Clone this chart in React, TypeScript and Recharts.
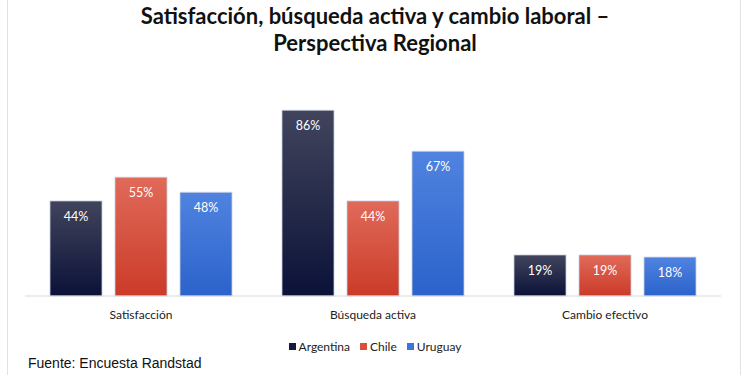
import React from 'react';
import { BarChart, Bar, XAxis, YAxis, LabelList } from 'recharts';

const categorias = ['Satisfacción', 'Búsqueda activa', 'Cambio efectivo'];
const argentina = [44, 86, 19];
const chile = [55, 44, 19];
const uruguay = [48, 67, 18];

const datos = categorias.map((name, i) => ({
  name,
  Argentina: argentina[i],
  Chile: chile[i],
  Uruguay: uruguay[i],
}));

const SERIES = [
  { key: 'Argentina', grad: 'gArg', top: '#41445c', bottom: '#0b1238', legend: '#14193f' },
  { key: 'Chile', grad: 'gChi', top: '#e06a5a', bottom: '#cb3b28', legend: '#d9503d' },
  { key: 'Uruguay', grad: 'gUru', top: '#5083e0', bottom: '#2b63cb', legend: '#3b74db' },
];

const FONT = 'Lato, "Open Sans", sans-serif';

export default function App(): React.ReactElement {
  return (
    <div
      style={{
        position: 'absolute',
        left: 0,
        top: 0,
        width: 750,
        height: 375,
        background: '#fff',
        fontFamily: FONT,
        overflow: 'hidden',
      }}
    >
      <div
        style={{
          position: 'absolute',
          left: 7,
          top: 0,
          width: 734,
          height: 375,
          borderLeft: '1px solid #e2e2e2',
          borderRight: '1px solid #e2e2e2',
          boxSizing: 'border-box',
        }}
      />
      <div
        style={{
          position: 'absolute',
          left: 0,
          top: 2,
          width: 750,
          textAlign: 'center',
          fontWeight: 700,
          fontSize: 22,
          lineHeight: '27px',
          color: '#111',
        }}
      >
        Satisfacción, búsqueda activa y cambio laboral –<br />
        Perspectiva Regional
      </div>
      <div style={{ position: 'absolute', left: 0, top: 0 }}>
        <BarChart
          width={750}
          height={330}
          data={datos}
          margin={{ top: 80, right: 29, left: 25, bottom: 4 }}
          barCategoryGap={25}
          barGap={13}
        >
          <defs>
            {SERIES.map((s) => (
              <linearGradient key={s.grad} id={s.grad} x1="0" y1="0" x2="0" y2="1">
                <stop offset="0%" stopColor={s.top} />
                <stop offset="100%" stopColor={s.bottom} />
              </linearGradient>
            ))}
          </defs>
          <XAxis
            dataKey="name"
            axisLine={{ stroke: '#d9d9d9' }}
            tickLine={false}
            tick={{ fontSize: 12, fill: '#222', fontFamily: FONT }}
            tickMargin={8}
          />
          <YAxis hide domain={[0, 100]} />
          {SERIES.map((s) => (
            <Bar
              key={s.key}
              dataKey={s.key}
              fill={`url(#${s.grad})`}
              stroke="#c9cfe0"
              strokeWidth={0.8}
              isAnimationActive={false}
            >
              <LabelList
                dataKey={s.key}
                position="insideTop"
                offset={11}
                formatter={(v) => `${v}%`}
                style={{ fill: '#fff', fontSize: 12.5, fontFamily: FONT }}
              />
            </Bar>
          ))}
        </BarChart>
      </div>
      <div
        style={{
          position: 'absolute',
          left: 0,
          top: 339,
          width: 750,
          display: 'flex',
          justifyContent: 'center',
          gap: 10,
          fontSize: 12,
          color: '#222',
        }}
      >
        {SERIES.map((s) => (
          <span key={s.key} style={{ display: 'flex', alignItems: 'center' }}>
            <span
              style={{ width: 7, height: 7, background: s.legend, display: 'inline-block', marginRight: 3 }}
            />
            {s.key}
          </span>
        ))}
      </div>
      <div
        style={{
          position: 'absolute',
          left: 28,
          top: 355,
          fontFamily: 'Arial, "Liberation Sans", sans-serif',
          fontSize: 14,
          color: '#111',
        }}
      >
        Fuente: Encuesta Randstad
      </div>
    </div>
  );
}
